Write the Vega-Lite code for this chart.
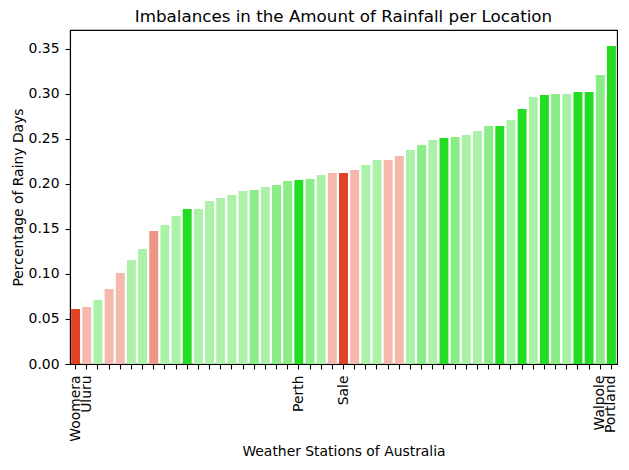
{
  "$schema": "https://vega.github.io/schema/vega-lite/v6.json",
  "autosize": {"type": "none"},
  "width": 547,
  "height": 334,
  "padding": {"left": 70, "top": 30, "right": 12, "bottom": 106},
  "title": {"text": "Imbalances in the Amount of Rainfall per Location", "font": "DejaVu Sans", "fontSize": 16.7, "fontWeight": "normal", "color": "black", "offset": 4, "anchor": "middle"},
  "config": {
    "view": {"stroke": "black", "strokeWidth": 1.1},
    "axis": {"labelFont": "DejaVu Sans", "titleFont": "DejaVu Sans", "labelFontSize": 13.9, "titleFontSize": 13.9, "titleFontWeight": "normal", "labelColor": "black", "titleColor": "black", "domainColor": "black", "tickColor": "black", "tickSize": 5, "tickWidth": 1.1, "domainWidth": 1.1, "grid": false}
  },
  "data": {"values": [
    {"station": "Woomera", "rain": 0.0611, "grp": "r3"},
    {"station": "Uluru", "rain": 0.0633, "grp": "r1"},
    {"station": "AliceSprings", "rain": 0.0711, "grp": "g1"},
    {"station": "Mildura", "rain": 0.0833, "grp": "r1"},
    {"station": "Cobar", "rain": 0.1011, "grp": "r1"},
    {"station": "Nhil", "rain": 0.1156, "grp": "g1"},
    {"station": "Moree", "rain": 0.1278, "grp": "g1"},
    {"station": "Katherine", "rain": 0.1478, "grp": "r2"},
    {"station": "Canberra", "rain": 0.1544, "grp": "g1"},
    {"station": "WaggaWagga", "rain": 0.1644, "grp": "g1"},
    {"station": "Tuggeranong", "rain": 0.1722, "grp": "g3"},
    {"station": "SalmonGums", "rain": 0.1722, "grp": "g1"},
    {"station": "Bendigo", "rain": 0.1811, "grp": "g1"},
    {"station": "Albury", "rain": 0.1844, "grp": "g1"},
    {"station": "BadgerysCreek", "rain": 0.1878, "grp": "g1"},
    {"station": "Adelaide", "rain": 0.1922, "grp": "g1"},
    {"station": "Richmond", "rain": 0.1933, "grp": "g2"},
    {"station": "Penrith", "rain": 0.1967, "grp": "g1"},
    {"station": "PearceRAAF", "rain": 0.1989, "grp": "g2"},
    {"station": "Nuriootpa", "rain": 0.2033, "grp": "g2"},
    {"station": "Perth", "rain": 0.2044, "grp": "g3"},
    {"station": "PerthAirport", "rain": 0.2056, "grp": "g2"},
    {"station": "Launceston", "rain": 0.2100, "grp": "g1"},
    {"station": "Townsville", "rain": 0.2122, "grp": "r1"},
    {"station": "Sale", "rain": 0.2122, "grp": "r3"},
    {"station": "MelbourneAirport", "rain": 0.2156, "grp": "r1"},
    {"station": "Darwin", "rain": 0.2211, "grp": "g1"},
    {"station": "Williamtown", "rain": 0.2267, "grp": "g1"},
    {"station": "Hobart", "rain": 0.2267, "grp": "r1"},
    {"station": "Ballarat", "rain": 0.2311, "grp": "r1"},
    {"station": "GoldCoast", "rain": 0.2378, "grp": "g1"},
    {"station": "Melbourne", "rain": 0.2433, "grp": "g2"},
    {"station": "Watsonia", "rain": 0.2489, "grp": "g1"},
    {"station": "Brisbane", "rain": 0.2511, "grp": "g3"},
    {"station": "Newcastle", "rain": 0.2522, "grp": "g2"},
    {"station": "SydneyAirport", "rain": 0.2544, "grp": "g1"},
    {"station": "Sydney", "rain": 0.2589, "grp": "g1"},
    {"station": "Wollongong", "rain": 0.2644, "grp": "g2"},
    {"station": "NorahHead", "rain": 0.2644, "grp": "g3"},
    {"station": "MountGinini", "rain": 0.2711, "grp": "g1"},
    {"station": "Albany", "rain": 0.2833, "grp": "g3"},
    {"station": "CoffsHarbour", "rain": 0.2967, "grp": "g1"},
    {"station": "Dartmoor", "rain": 0.2989, "grp": "g3"},
    {"station": "MountGambier", "rain": 0.3000, "grp": "g2"},
    {"station": "Witchcliffe", "rain": 0.3000, "grp": "g1"},
    {"station": "Cairns", "rain": 0.3022, "grp": "g3"},
    {"station": "NorfolkIsland", "rain": 0.3022, "grp": "g3"},
    {"station": "Walpole", "rain": 0.3211, "grp": "g2"},
    {"station": "Portland", "rain": 0.3533, "grp": "g3"}
  ]},
  "mark": {"type": "bar"},
  "encoding": {
    "x": {"field": "station", "type": "nominal", "sort": null,
      "scale": {"paddingInner": 0.2, "paddingOuter": 0.1},
      "axis": {"title": "Weather Stations of Australia", "labelAngle": -90, "labelPadding": 6, "labelOverlap": false, "titlePadding": 3,
        "labelExpr": "indexof(['Woomera','Uluru','Perth','Sale','Walpole','Portland'], datum.value) >= 0 ? datum.value : ''"}},
    "y": {"field": "rain", "type": "quantitative",
      "scale": {"domain": [0, 0.371], "nice": false, "zero": true},
      "axis": {"title": "Percentage of Rainy Days", "values": [0, 0.05, 0.1, 0.15, 0.2, 0.25, 0.3, 0.35], "format": ".2f", "labelPadding": 6, "titlePadding": 3}},
    "color": {"field": "grp", "type": "nominal", "legend": null,
      "scale": {"domain": ["r3", "r2", "r1", "g1", "g2", "g3"], "range": ["#e04424", "#ee9684", "#f4b9ac", "#abf2a8", "#89ec87", "#23dd23"]}}
  }
}
